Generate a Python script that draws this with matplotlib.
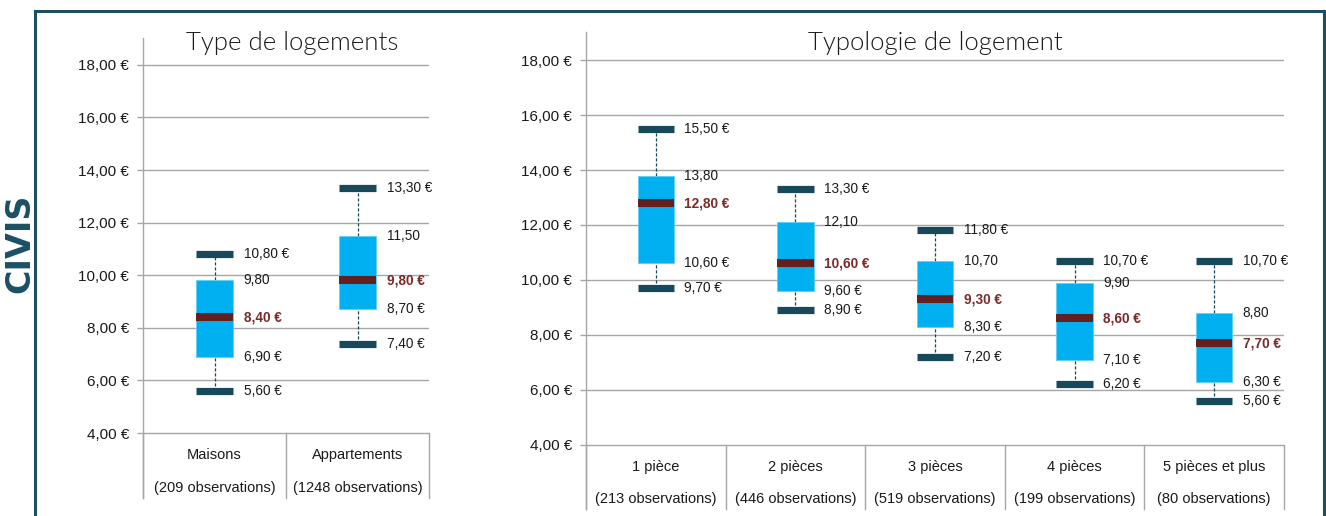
import matplotlib
matplotlib.use("Agg")
import matplotlib.pyplot as plt
from matplotlib.patches import Rectangle

# data
types = ["Maisons", "Appartements"]
types_obs = ["(209 observations)", "(1248 observations)"]
types_min = [5.6, 7.4]
types_q1 = [6.9, 8.7]
types_med = [8.4, 9.8]
types_q3 = [9.8, 11.5]
types_max = [10.8, 13.3]

pieces = ["1 pièce", "2 pièces", "3 pièces", "4 pièces", "5 pièces et plus"]
pieces_obs = ["(213 observations)", "(446 observations)", "(519 observations)",
              "(199 observations)", "(80 observations)"]
pieces_min = [9.7, 8.9, 7.2, 6.2, 5.6]
pieces_q1 = [10.6, 9.6, 8.3, 7.1, 6.3]
pieces_med = [12.8, 10.6, 9.3, 8.6, 7.7]
pieces_q3 = [13.8, 12.1, 10.7, 9.9, 8.8]
pieces_max = [15.5, 13.3, 11.8, 10.7, 10.7]

y_ticks = [4, 6, 8, 10, 12, 14, 16, 18]

plt.rcParams['font.family'] = ['Liberation Sans', 'DejaVu Sans']

BOX = "#00b0f0"
CAP = "#17495b"
MED = "#62211f"
MED_TXT = "#7a2b2b"
GRID = "#a6a6a6"
FRAME = "#1b4f64"
W = 1326
H = 516


def eur(v, sign=True):
    s = f"{v:.2f}".replace(".", ",")
    return s + " €" if sign else s


def draw_panel(rect, title, cats, obs, vmin, q1, med, q3, vmax, ybottom, title_y, cat_y, obs_y):
    ax = fig.add_axes([rect[0] / W, 1 - rect[3] / H, (rect[2] - rect[0]) / W, (rect[3] - rect[1]) / H])
    n = len(cats)
    w = 0.26
    ax.set_xlim(-0.5, n - 0.5)
    ax.set_ylim(ybottom, 19.02)
    for s in ["top", "right", "bottom"]:
        ax.spines[s].set_visible(False)
    ax.spines["left"].set_color(GRID)
    ax.spines["left"].set_linewidth(1.0)
    ax.set_xticks([])
    ax.set_yticks(y_ticks)
    ax.set_yticklabels([eur(t) for t in y_ticks], fontsize=11, color="#1a1a1a")
    ax.tick_params(axis="y", length=4, color=GRID, width=1.0, pad=6)
    for t in y_ticks:
        ax.axhline(t, color=GRID, lw=1.0, zorder=1)
    # table lines under the plot
    for k in range(n + 1):
        ax.plot([k - 0.5, k - 0.5], [ybottom, y_ticks[0]], color=GRID, lw=1.0, clip_on=False)

    x = list(range(n))
    ax.bar(x, [b - a for a, b in zip(q1, q3)], bottom=q1, width=w, color=BOX,
           edgecolor="#5fd0f8", linewidth=0.6, zorder=3)
    for i in x:
        ax.plot([i, i], [vmin[i], q1[i]], color=CAP, lw=0.9, ls=(0, (2.5, 1.5)), zorder=2)
        ax.plot([i, i], [q3[i], vmax[i]], color=CAP, lw=0.9, ls=(0, (2.5, 1.5)), zorder=2)
    ax.hlines(vmin, [i - w / 2 for i in x], [i + w / 2 for i in x], color=CAP, lw=5.2, capstyle="butt", zorder=4)
    ax.hlines(vmax, [i - w / 2 for i in x], [i + w / 2 for i in x], color=CAP, lw=5.2, capstyle="butt", zorder=4)
    ax.hlines(med, [i - w / 2 for i in x], [i + w / 2 for i in x], color=MED, lw=5.8, capstyle="butt", zorder=4)

    for i in x:
        kw = dict(xytext=(7.5, 0), textcoords="offset points", va="center", ha="left", fontsize=9.8)
        ax.annotate(eur(vmax[i]), (i + w / 2, vmax[i]), color="#1a1a1a", **kw)
        ax.annotate(eur(q3[i], False), (i + w / 2, q3[i]), color="#1a1a1a", **kw)
        ax.annotate(eur(med[i]), (i + w / 2, med[i]), color=MED_TXT, fontweight="bold", **kw)
        ax.annotate(eur(q1[i]), (i + w / 2, q1[i]), color="#1a1a1a", **kw)
        ax.annotate(eur(vmin[i]), (i + w / 2, vmin[i]), color="#1a1a1a", **kw)
        ax.text(i, cat_y, cats[i], ha="center", va="center", fontsize=10.5, color="#1a1a1a")
        ax.text(i, obs_y, obs[i], ha="center", va="center", fontsize=10.5, color="#1a1a1a")

    ax.text(0.52 if n == 2 else 0.5, title_y, title, transform=ax.get_yaxis_transform(), ha="center",
            va="baseline", fontsize=18.5, family=["Lato", "DejaVu Sans"], fontweight=300, color="#1a1a1a")
    return ax


fig = plt.figure(figsize=(W / 100, H / 100), dpi=100)

# left panel: x0, y_top, x1, y_bottom in pixels
draw_panel((143, 38, 429, 498), "Type de logements", types, types_obs,
           types_min, types_q1, types_med, types_q3, types_max,
           ybottom=1.53, title_y=18.55, cat_y=3.17, obs_y=1.92)
draw_panel((586, 32, 1284, 509), "Typologie de logement", pieces, pieces_obs,
           pieces_min, pieces_q1, pieces_med, pieces_q3, pieces_max,
           ybottom=1.67, title_y=18.38, cat_y=3.21, obs_y=2.04)

# frame around the charts
fig.add_artist(Rectangle((35 / W, -0.2), (1323.5 - 35) / W, 1.2 - 10.5 / H, transform=fig.transFigure,
                         fill=False, edgecolor=FRAME, lw=2.2, clip_on=False))
fig.text(20 / W, 1 - 243 / H, "CIVIS", rotation=90, ha="center", va="center", fontsize=24,
         family="DejaVu Sans", fontweight="bold", color=FRAME)

fig.savefig("out.png", dpi=100)
